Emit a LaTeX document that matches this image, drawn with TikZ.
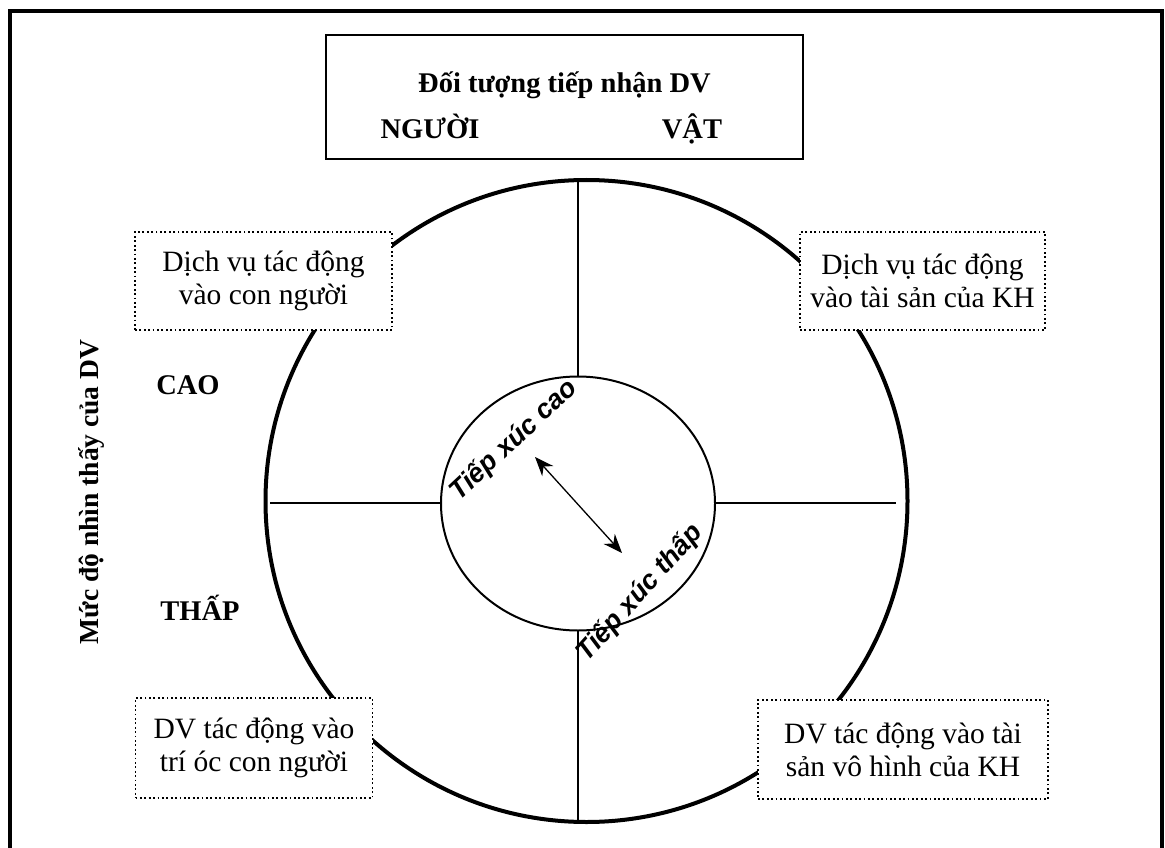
\documentclass[tikz,border=0pt]{standalone}
\usepackage{fontspec}
\setmainfont{Liberation Serif}
\newfontfamily\arialfont{Liberation Sans}
\usetikzlibrary{arrows.meta,shapes.geometric}
\begin{document}
\begin{tikzpicture}[x=1pt,y=-1pt,
  btxt/.style={font=\fontsize{28.5}{33}\selectfont\bfseries, align=center, inner sep=0, anchor=base},
  dotbox/.style={draw, fill=white, line width=1.8pt, dash pattern=on 1.8pt off 2.6pt,
     font=\fontsize{29.5}{33}\selectfont, align=center, inner sep=0},
  wart/.style={font=\arialfont\fontsize{27}{28}\selectfont\bfseries\itshape, inner sep=0},
  cross/.style={line width=2pt}]
\useasboundingbox (0,0) rectangle (1165,848);
% outer frame
\draw[line width=4pt] (10,852) -- (10,11) -- (1162,11) -- (1162,852);
% header box
\node[draw, line width=2pt, minimum width=477pt, minimum height=124pt, inner sep=0] (hdr) at (564.5,97) {};
\node[btxt] (hdrt) at (564.5,93) {Đối tượng tiếp nhận DV};
\node[btxt] (nguoi) at (430,139) {NGƯỜI};
\node[btxt] (vat) at (692,139) {VẬT};
% outer circle
\node[draw, circle, line width=4pt, minimum size=642pt, inner sep=0] (outer) at (586.5,501) {};
% cross lines
\coordinate (vt) at (578,181);
\coordinate (vb) at (578,823);
\coordinate (hl) at (270,503);
\coordinate (hr) at (896,503);
\draw[cross] (vt) -- (vb);
\draw[cross] (hl) -- (hr);
% inner circle
\node[draw, ellipse, line width=2pt, fill=white, minimum width=274pt, minimum height=254pt, inner sep=0] (inner) at (578,503.5) {};
\node[wart, rotate=43] (hi) at (514,440) {Tiếp xúc cao};
\node[wart, rotate=48] (lo) at (640,593) {Tiếp xúc thấp};
\coordinate (a1) at (535,457);
\coordinate (a2) at (622,553);
\draw[line width=1.3pt, {Stealth[length=19pt,width=15pt]}-{Stealth[length=19pt,width=15pt]}] (a1) -- (a2);
% dotted boxes
\node[dotbox, minimum width=257pt, minimum height=98pt] (tl) at (263.5,281) {Dịch vụ tác động\\vào con người};
\node[dotbox, minimum width=245pt, minimum height=98pt] (tr) at (922.5,281) {Dịch vụ tác động\\vào tài sản của KH};
\node[dotbox, minimum width=237pt, minimum height=100pt] (bl) at (254,748) {DV tác động vào\\trí óc con người};
\node[dotbox, minimum width=290pt, minimum height=99pt] (br) at (903,749.5) {DV tác động vào tài\\sản vô hình của KH};
% side labels
\node[btxt] (cao) at (188,394) {CAO};
\node[btxt] (thap) at (200,620) {THẤP};
\node[btxt, rotate=90, anchor=center, font=\fontsize{27.5}{33}\selectfont\bfseries] (muc) at (91,492) {Mức độ nhìn thấy của DV};
\end{tikzpicture}
\end{document}
